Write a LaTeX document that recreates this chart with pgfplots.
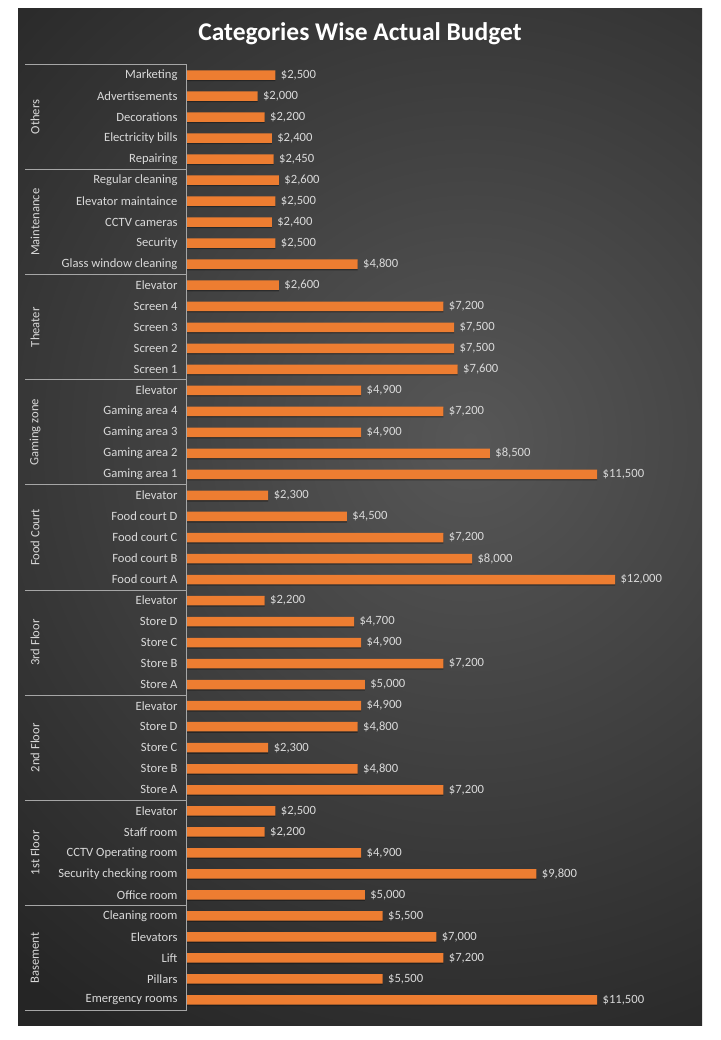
\documentclass[border=0pt]{standalone}
\usepackage{pgfplots}
\pgfplotsset{compat=1.18}
\usepackage{pgfplotstable}
\usepackage{fontspec}
\setmainfont{Carlito}

\definecolor{barorange}{HTML}{ED7D31}
\definecolor{barshade}{HTML}{141414}
\definecolor{labelgray}{HTML}{D9D9D9}
\definecolor{rulegray}{HTML}{A6A6A6}
\definecolor{bgin}{HTML}{575757}
\definecolor{bgout}{HTML}{252525}

% actual budget per item, listed from top (0) to bottom (44)
\pgfplotstableread{
idx value
0 2500
1 2000
2 2200
3 2400
4 2450
5 2600
6 2500
7 2400
8 2500
9 4800
10 2600
11 7200
12 7500
13 7500
14 7600
15 4900
16 7200
17 4900
18 8500
19 11500
20 2300
21 4500
22 7200
23 8000
24 12000
25 2200
26 4700
27 4900
28 7200
29 5000
30 4900
31 4800
32 2300
33 4800
34 7200
35 2500
36 2200
37 4900
38 9800
39 5000
40 5500
41 7000
42 7200
43 5500
44 11500
}\budget

\newcommand\lblfont{\fontsize{12.6}{15}\selectfont}

\begin{document}
\begin{tikzpicture}[x=1pt,y=1pt]
\useasboundingbox (0,0) rectangle (720,1040);
\fill[white] (0,0) rectangle (720,1040);
\begin{scope}
  \clip (18,14) rectangle (702,1031);
  \fill[bgout] (18,14) rectangle (702,1031);
  \shade[inner color=bgin, outer color=bgout] (470,600) circle (700);
\end{scope}
\node[font=\fontsize{25.5}{30}\selectfont\bfseries, text=white] at (360,1006) {Categories Wise Actual Budget};
\begin{axis}[
  at={(186pt,29.5pt)}, anchor=south west,
  scale only axis, width=429pt, height=946pt,
  xbar, bar width=9.5pt,
  xmin=0, xmax=12000,
  ymin=-0.5, ymax=44.5, y dir=reverse,
  axis line style={draw=none},
  xtick=\empty,
  ytick={0,...,44},
  major tick length=0pt,
  yticklabels={Marketing, Advertisements\ , Decorations, Electricity bills, Repairing,
    Regular cleaning, Elevator maintaince, CCTV cameras, Security, Glass window cleaning,
    Elevator, Screen 4, Screen 3, Screen 2, Screen 1,
    Elevator, Gaming area 4, Gaming area 3, Gaming area 2, Gaming area 1,
    Elevator, Food court D, Food court C, Food court B, Food court A,
    Elevator, Store D, Store C, Store B, Store A,
    Elevator, Store D, Store C, Store B, Store A,
    Elevator, Staff room, CCTV Operating room, Security checking room, Office room,
    Cleaning room, Elevators, Lift, Pillars, Emergency rooms},
  yticklabel style={font=\lblfont, text=labelgray, xshift=-5pt},
  nodes near coords={\$\pgfmathprintnumber[assume math mode=true,1000 sep={,}]{\pgfplotspointmeta}},
  nodes near coords align={horizontal},
  every node near coord/.append style={font=\lblfont, text=labelgray, xshift=2pt},
  clip=false,
]
% soft shadow under each bar
\addplot[draw=none, fill=barshade, fill opacity=0.5, bar shift=-1.3pt, nodes near coords={}] table[x=value, y=idx] {\budget};
\addplot[draw=none, fill=barorange, bar shift=0pt] table[x=value, y=idx] {\budget};

% group rules and the vertical axis rule
\draw[rulegray, line width=0.9pt] (axis cs:0,-0.5) -- (axis cs:0,44.5);
\pgfplotsinvokeforeach{-0.5,4.5,9.5,14.5,19.5,24.5,29.5,34.5,39.5,44.5}{
  \draw[rulegray, line width=0.9pt] (axis cs:0,#1) -- ++(-161pt,0pt);
}
\path[every node/.style={rotate=90, font=\lblfont, text=labelgray}]
  (axis cs:0,2)  ++(-151pt,0pt) node {Others}
  (axis cs:0,7)  ++(-151pt,0pt) node {Maintenance}
  (axis cs:0,12) ++(-151pt,0pt) node {Theater}
  (axis cs:0,17) ++(-151pt,0pt) node {Gaming zone}
  (axis cs:0,22) ++(-151pt,0pt) node {Food Court}
  (axis cs:0,27) ++(-151pt,0pt) node {3rd Floor}
  (axis cs:0,32) ++(-151pt,0pt) node {2nd Floor}
  (axis cs:0,37) ++(-151pt,0pt) node {1st Floor}
  (axis cs:0,42) ++(-151pt,0pt) node {Basement};
\end{axis}
\end{tikzpicture}
\end{document}
